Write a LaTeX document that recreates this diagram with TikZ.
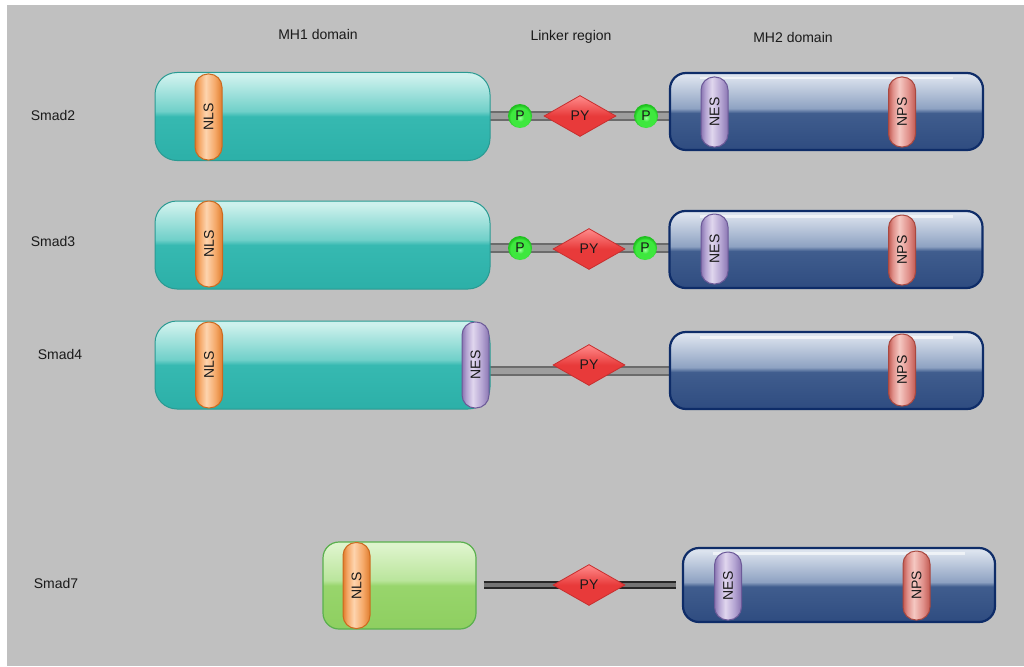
\documentclass[tikz,border=0pt]{standalone}
\usepackage{fontspec}
\setmainfont{Liberation Sans}
\usepackage{graphicx}
\usetikzlibrary{shapes.geometric}

\definecolor{bgray}{HTML}{C0C0C0}
\definecolor{txt}{HTML}{1A1A1A}
\definecolor{tealB}{HTML}{2CB0A8}
\definecolor{tealM}{HTML}{36B9B1}
\definecolor{tealH}{HTML}{70D0C9}
\definecolor{tealT}{HTML}{CDF1ED}
\definecolor{tealD}{HTML}{2A9A92}
\definecolor{navyB}{HTML}{2F4C80}
\definecolor{navyM}{HTML}{405D8E}
\definecolor{navyH}{HTML}{8EA2C2}
\definecolor{navyT}{HTML}{DCE3EE}
\definecolor{navyD}{HTML}{0E2C68}
\definecolor{grnB}{HTML}{8ECF60}
\definecolor{grnM}{HTML}{98D56C}
\definecolor{grnH}{HTML}{BAE59C}
\definecolor{grnT}{HTML}{DEF4CC}
\definecolor{grnD}{HTML}{5AB04E}
\definecolor{nlsE}{HTML}{E07D2E}
\definecolor{nlsC}{HTML}{F5A868}
\definecolor{nlsL}{HTML}{FDD4AE}
\definecolor{nlsD}{HTML}{CC6A20}
\definecolor{nesE}{HTML}{8A76B2}
\definecolor{nesC}{HTML}{B4A4D2}
\definecolor{nesL}{HTML}{E0D6EE}
\definecolor{nesD}{HTML}{6C5A98}
\definecolor{npsE}{HTML}{C25A52}
\definecolor{npsC}{HTML}{E0908A}
\definecolor{npsL}{HTML}{F5C8C2}
\definecolor{npsD}{HTML}{A84840}
\definecolor{pyB}{HTML}{E83A3A}
\definecolor{pyT}{HTML}{FF8C8C}
\definecolor{pyD}{HTML}{C82E2E}
\definecolor{phL}{HTML}{9CFF9C}
\definecolor{phG}{HTML}{3EE83E}
\definecolor{phE}{HTML}{1FC01F}

% glossy fills, bottom to top
\pgfdeclareverticalshading{tealS}{100bp}{color(0bp)=(tealB); color(25bp)=(tealB); color(50bp)=(tealM); color(53bp)=(tealH); color(73bp)=(tealT); color(100bp)=(tealT)}
\pgfdeclareverticalshading{navyS}{100bp}{color(0bp)=(navyB); color(25bp)=(navyB); color(49bp)=(navyM); color(52bp)=(navyH); color(73bp)=(navyT); color(100bp)=(navyT)}
\pgfdeclareverticalshading{grnS}{100bp}{color(0bp)=(grnB); color(25bp)=(grnB); color(50bp)=(grnM); color(53bp)=(grnH); color(73bp)=(grnT); color(100bp)=(grnT)}
\pgfdeclareverticalshading{pyS}{100bp}{color(0bp)=(pyB); color(25bp)=(pyB); color(50bp)=(pyB); color(75bp)=(pyT); color(100bp)=(pyT)}
% pills, left to right
\pgfdeclarehorizontalshading{nlsS}{100bp}{color(0bp)=(nlsE); color(25bp)=(nlsE); color(33bp)=(nlsC); color(45bp)=(nlsL); color(62bp)=(nlsC); color(75bp)=(nlsE); color(100bp)=(nlsE)}
\pgfdeclarehorizontalshading{nesS}{100bp}{color(0bp)=(nesE); color(25bp)=(nesE); color(33bp)=(nesC); color(45bp)=(nesL); color(62bp)=(nesC); color(75bp)=(nesE); color(100bp)=(nesE)}
\pgfdeclarehorizontalshading{npsS}{100bp}{color(0bp)=(npsE); color(25bp)=(npsE); color(33bp)=(npsC); color(45bp)=(npsL); color(62bp)=(npsC); color(75bp)=(npsE); color(100bp)=(npsE)}
% phospho sites
\pgfdeclareradialshading{phS}{\pgfpoint{0bp}{-4bp}}{color(0bp)=(phL); color(8bp)=(phG); color(20bp)=(phG); color(25bp)=(phE); color(50bp)=(phE)}

\pgfdeclarelayer{back}
\pgfdeclarelayer{link}
\pgfsetlayers{back,link,main}

\begin{document}
\begin{tikzpicture}[x=1pt,y=-1pt,
    every node/.style={font=\fontsize{14}{16}\selectfont, text=txt},
    box/.style={rectangle, inner sep=0pt},
    mhone/.style={box, rounded corners=22pt, draw=tealD, line width=1pt,
      shading=tealS, minimum width=335pt, minimum height=88pt},
    mhgreen/.style={box, rounded corners=16pt, draw=grnD, line width=1.2pt,
      shading=grnS, minimum width=153pt, minimum height=87pt},
    mhtwo/.style={box, rounded corners=16pt, draw=navyD, line width=2.2pt,
      shading=navyS, minimum width=313pt, minimum height=77pt,
      path picture={\fill[white,opacity=0.6,sharp corners]
        ([xshift=30pt,yshift=-4pt]path picture bounding box.north west) rectangle
        ([xshift=-30pt,yshift=-6.5pt]path picture bounding box.north east);}},
    pill/.style={box, rounded corners=13pt, line width=1pt,
      minimum width=27pt, minimum height=#1},
    pill/.default=86pt,
    nls/.style={pill, draw=nlsD, shading=nlsS},
    nes/.style={pill=70pt, draw=nesD, shading=nesS},
    nps/.style={pill=70pt, draw=npsD, shading=npsS},
    py/.style={diamond, aspect=1.8, inner sep=0pt, minimum width=72pt,
      minimum height=41pt, draw=pyD, line width=0.8pt, shading=pyS},
    phos/.style={circle, inner sep=0pt, minimum size=24pt, shading=phS},
    linker/.style={draw=black!58, line width=2pt, double=black!38,
      double distance=6pt, line cap=round},
    linkdark/.style={draw=black!85, line width=1.8pt, double=black!55,
      double distance=3.5pt},
    lbl/.style={anchor=center},
    hdr/.style={anchor=center}]

  \useasboundingbox (0,0) rectangle (1024,666);
  \begin{pgfonlayer}{back}
    \fill[white] (0,0) rectangle (1024,666);
    \fill[bgray] (7,5) rectangle (1024,666);
  \end{pgfonlayer}

  % headings
  \node[hdr] (hone) at (318,34) {MH1 domain};
  \node[hdr] (hlink) at (571,37) {Linker region};
  \node[hdr] (htwo) at (793,37) {MH2 domain};

  % Smad2
  \node[lbl] (sa) at (53,115) {Smad2};
  \node[mhone] (mh1a) at (322.5,116.5) {};
  \node[nls] (nlsa) at (208.5,117) {\rotatebox{90}{NLS}};
  \node[mhtwo] (mh2a) at (826.5,111.5) {};
  \node[nes] (nesa) at (714.5,112) {\rotatebox{90}{NES}};
  \node[nps] (npsa) at (902,112) {\rotatebox{90}{NPS}};
  \node[py] (pya) at (580,116) {PY};
  \node[phos] (p1a) at (520,116) {P};
  \node[phos] (p2a) at (646,116) {P};

  % Smad3
  \node[lbl] (sb) at (53,241) {Smad3};
  \node[mhone] (mh1b) at (322.5,245) {};
  \node[nls] (nlsb) at (209,244) {\rotatebox{90}{NLS}};
  \node[mhtwo] (mh2b) at (826,249.5) {};
  \node[nes] (nesb) at (714.5,249) {\rotatebox{90}{NES}};
  \node[nps] (npsb) at (902,250) {\rotatebox{90}{NPS}};
  \node[py] (pyb) at (589,249) {PY};
  \node[phos] (p1b) at (520,248) {P};
  \node[phos] (p2b) at (645,248) {P};

  % Smad4
  \node[lbl] (sc) at (60,354) {Smad4};
  \node[mhone] (mh1c) at (322.5,365) {};
  \node[nls] (nlsc) at (209,365) {\rotatebox{90}{NLS}};
  \node[nes, minimum height=86pt] (nesc) at (475.5,365) {\rotatebox{90}{NES}};
  \node[mhtwo] (mh2c) at (826.5,370.5) {};
  \node[nps, minimum height=72pt] (npsc) at (902,370) {\rotatebox{90}{NPS}};
  \node[py] (pyc) at (589,365) {PY};

  % Smad7
  \node[lbl] (sd) at (56,583) {Smad7};
  \node[mhgreen] (mh1d) at (399.5,585.5) {};
  \node[nls] (nlsd) at (356.5,585.5) {\rotatebox{90}{NLS}};
  \node[mhtwo, minimum width=312pt, minimum height=74pt] (mh2d) at (839,585) {};
  \node[nes, minimum height=68pt] (nesd) at (728,586) {\rotatebox{90}{NES}};
  \node[nps, minimum height=69pt] (npsd) at (916.5,585.5) {\rotatebox{90}{NPS}};
  \node[py] (pyd) at (589,585) {PY};

  % linkers
  \begin{pgfonlayer}{link}
    \draw[linker] (mh1a.east |- p1a) -- (mh2a.west |- p1a);
    \draw[linker] (mh1b.east |- p1b) -- (mh2b.west |- p1b);
    \draw[linker] (nesc.east |- mh2c) -- (mh2c.west);
    \draw[linkdark, shorten <=7pt, shorten >=6pt] (mh1d.east |- pyd) -- (mh2d.west |- pyd);
  \end{pgfonlayer}
\end{tikzpicture}
\end{document}
